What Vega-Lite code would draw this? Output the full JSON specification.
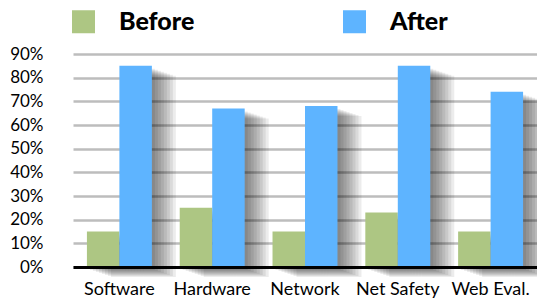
{
  "$schema": "https://vega.github.io/schema/vega-lite/v6.json",
  "width": 464,
  "height": 213,
  "autosize": {"type": "none"},
  "padding": {"left": 73, "top": 54, "right": 0, "bottom": 36},
  "background": "white",
  "config": {"view": {"stroke": null}, "font": "Lato"},
  "data": {
    "values": [
      {"category": "Software", "period": "Before", "value": 0.15},
      {"category": "Software", "period": "After", "value": 0.85},
      {"category": "Hardware", "period": "Before", "value": 0.25},
      {"category": "Hardware", "period": "After", "value": 0.67},
      {"category": "Network", "period": "Before", "value": 0.15},
      {"category": "Network", "period": "After", "value": 0.68},
      {"category": "Net Safety", "period": "Before", "value": 0.23},
      {"category": "Net Safety", "period": "After", "value": 0.85},
      {"category": "Web Eval.", "period": "Before", "value": 0.15},
      {"category": "Web Eval.", "period": "After", "value": 0.74}
    ]
  },
  "encoding": {
    "x": {
      "field": "category",
      "type": "nominal",
      "sort": ["Software", "Hardware", "Network", "Net Safety", "Web Eval."],
      "scale": {"paddingInner": 0.3, "paddingOuter": 0.15},
      "axis": {
        "title": null,
        "labelAngle": 0,
        "labelFont": "Lato",
        "labelFontSize": 18,
        "labelColor": "#000",
        "labelPadding": 13,
        "ticks": false,
        "domainColor": "#000",
        "domainWidth": 3,
        "zindex": 1
      }
    },
    "y": {
      "field": "value",
      "type": "quantitative",
      "scale": {"domain": [0, 0.9], "nice": false},
      "axis": {
        "title": null,
        "format": ".0%",
        "values": [0, 0.1, 0.2, 0.3, 0.4, 0.5, 0.6, 0.7, 0.8, 0.9],
        "labelFont": "Lato",
        "labelFontSize": 17,
        "labelColor": "#000",
        "labelPadding": 30,
        "ticks": false,
        "domain": false,
        "grid": true,
        "gridColor": "#bdbdbd",
        "gridWidth": 2.5
      }
    }
  },
  "layer": [
    {"transform": [{"filter": "datum.period === 'After'"}], "mark": {"type": "bar", "color": "#000", "opacity": 0.075, "width": {"band": 0.5}, "xOffset": 40.25, "yOffset": 10, "y2Offset": 13}, "encoding": {}},
    {"transform": [{"filter": "datum.period === 'After'"}], "mark": {"type": "bar", "color": "#000", "opacity": 0.075, "width": {"band": 0.5}, "xOffset": 37.25, "yOffset": 9, "y2Offset": 12}, "encoding": {}},
    {"transform": [{"filter": "datum.period === 'After'"}], "mark": {"type": "bar", "color": "#000", "opacity": 0.075, "width": {"band": 0.5}, "xOffset": 34.25, "yOffset": 8, "y2Offset": 11}, "encoding": {}},
    {"transform": [{"filter": "datum.period === 'After'"}], "mark": {"type": "bar", "color": "#000", "opacity": 0.075, "width": {"band": 0.5}, "xOffset": 31.25, "yOffset": 7, "y2Offset": 9}, "encoding": {}},
    {"transform": [{"filter": "datum.period === 'After'"}], "mark": {"type": "bar", "color": "#000", "opacity": 0.075, "width": {"band": 0.5}, "xOffset": 28.25, "yOffset": 6, "y2Offset": 8}, "encoding": {}},
    {"transform": [{"filter": "datum.period === 'After'"}], "mark": {"type": "bar", "color": "#000", "opacity": 0.075, "width": {"band": 0.5}, "xOffset": 25.25, "yOffset": 5, "y2Offset": 6}, "encoding": {}},
    {"transform": [{"filter": "datum.period === 'After'"}], "mark": {"type": "bar", "color": "#000", "opacity": 0.075, "width": {"band": 0.5}, "xOffset": 22.25, "yOffset": 4, "y2Offset": 5}, "encoding": {}},
    {"transform": [{"filter": "datum.period === 'After'"}], "mark": {"type": "bar", "color": "#000", "opacity": 0.075, "width": {"band": 0.5}, "xOffset": 19.25, "yOffset": 3, "y2Offset": 3}, "encoding": {}},
    {"transform": [{"filter": "datum.period === 'Before'"}], "mark": {"type": "bar", "color": "#000", "opacity": 0.075, "width": {"band": 0.5}, "xOffset": 7.75, "yOffset": 10, "y2Offset": 13}, "encoding": {}},
    {"transform": [{"filter": "datum.period === 'Before'"}], "mark": {"type": "bar", "color": "#000", "opacity": 0.075, "width": {"band": 0.5}, "xOffset": 4.75, "yOffset": 9, "y2Offset": 12}, "encoding": {}},
    {"transform": [{"filter": "datum.period === 'Before'"}], "mark": {"type": "bar", "color": "#000", "opacity": 0.075, "width": {"band": 0.5}, "xOffset": 1.75, "yOffset": 8, "y2Offset": 11}, "encoding": {}},
    {"transform": [{"filter": "datum.period === 'Before'"}], "mark": {"type": "bar", "color": "#000", "opacity": 0.075, "width": {"band": 0.5}, "xOffset": -1.25, "yOffset": 7, "y2Offset": 9}, "encoding": {}},
    {"transform": [{"filter": "datum.period === 'Before'"}], "mark": {"type": "bar", "color": "#000", "opacity": 0.075, "width": {"band": 0.5}, "xOffset": -4.25, "yOffset": 6, "y2Offset": 8}, "encoding": {}},
    {"transform": [{"filter": "datum.period === 'Before'"}], "mark": {"type": "bar", "color": "#000", "opacity": 0.075, "width": {"band": 0.5}, "xOffset": -7.25, "yOffset": 5, "y2Offset": 6}, "encoding": {}},
    {"transform": [{"filter": "datum.period === 'Before'"}], "mark": {"type": "bar", "color": "#000", "opacity": 0.075, "width": {"band": 0.5}, "xOffset": -10.25, "yOffset": 4, "y2Offset": 5}, "encoding": {}},
    {"transform": [{"filter": "datum.period === 'Before'"}], "mark": {"type": "bar", "color": "#000", "opacity": 0.075, "width": {"band": 0.5}, "xOffset": -13.25, "yOffset": 3, "y2Offset": 3}, "encoding": {}},
    {
      "mark": {"type": "bar"},
      "encoding": {
        "xOffset": {"field": "period", "type": "nominal", "sort": ["Before", "After"], "scale": {"paddingInner": 0, "paddingOuter": 0}},
        "color": {
          "field": "period",
          "type": "nominal",
          "sort": ["Before", "After"],
          "scale": {"domain": ["Before", "After"], "range": ["#adc683", "#5eb4ff"]},
          "legend": {
            "title": null,
            "orient": "none",
            "legendX": -2,
            "legendY": -45,
            "direction": "horizontal",
            "symbolType": "square",
            "symbolSize": 529,
            "symbolStrokeWidth": 0,
            "symbolOpacity": 1,
            "labelFont": "Lato",
            "labelFontSize": 25,
            "labelFontWeight": 900,
            "labelColor": "#000",
            "labelOffset": 23,
            "columnPadding": 147
          }
        }
      }
    }
  ]
}
